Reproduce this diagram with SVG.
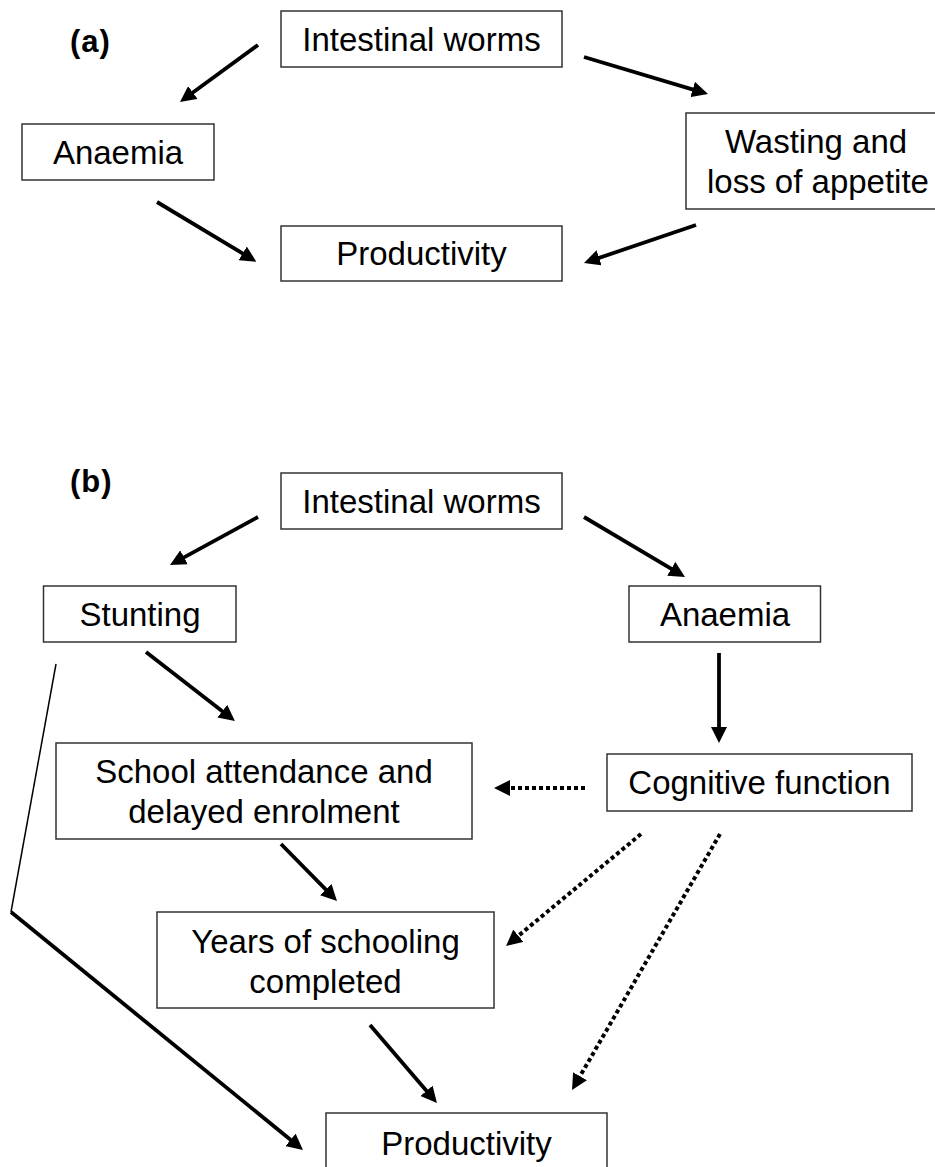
<svg xmlns="http://www.w3.org/2000/svg" width="935" height="1167" viewBox="0 0 935 1167">
<style>
.box{fill:#fff;stroke:#333;stroke-width:1.5}
.t{font-family:"Liberation Sans",Arial,sans-serif;font-size:33px;fill:#000;text-anchor:middle}
.lab{font-family:"Liberation Sans",Arial,sans-serif;font-size:31px;font-weight:bold;fill:#000;letter-spacing:1px}
.a{fill:none;stroke:#000;stroke-width:3.8;marker-end:url(#ah)}
.d{fill:none;stroke:#000;stroke-width:4;stroke-dasharray:4 3;marker-end:url(#ah)}
.thin{fill:none;stroke:#000;stroke-width:1.5}
</style>
<defs>
<marker id="ah" markerUnits="userSpaceOnUse" markerWidth="16" markerHeight="16" refX="11" refY="8" orient="auto" viewBox="0 0 16 16">
<path d="M0,0 L16,8 L0,16 z" fill="#000"/>
</marker>
</defs>
<rect width="935" height="1167" fill="#fff"/>
<text class="lab" x="70" y="52">(a)</text>
<text class="lab" x="70" y="492">(b)</text>
<g id="a-worms"><rect class="box" x="281" y="11" width="281" height="56"/><text class="t" x="421.5" y="51">Intestinal worms</text></g>
<g id="a-anaemia"><rect class="box" x="22" y="124" width="192" height="56"/><text class="t" x="118" y="164">Anaemia</text></g>
<g id="a-wasting"><rect class="box" x="686" y="113" width="262" height="96"/><text class="t" x="816" y="153">Wasting and</text><text class="t" x="818" y="193">loss of appetite</text></g>
<g id="a-productivity"><rect class="box" x="281" y="226" width="281" height="55"/><text class="t" x="421.5" y="265">Productivity</text></g>
<g id="b-worms"><rect class="box" x="281" y="473" width="281" height="56"/><text class="t" x="421.5" y="513">Intestinal worms</text></g>
<g id="b-stunting"><rect class="box" x="43.5" y="586" width="192.5" height="56"/><text class="t" x="140" y="626">Stunting</text></g>
<g id="b-anaemia"><rect class="box" x="629" y="586" width="191.5" height="56"/><text class="t" x="725" y="626">Anaemia</text></g>
<g id="b-school"><rect class="box" x="56" y="743" width="416" height="96"/><text class="t" x="264" y="783">School attendance and</text><text class="t" x="264" y="823">delayed enrolment</text></g>
<g id="b-cognitive"><rect class="box" x="607" y="754" width="305" height="57"/><text class="t" x="759.5" y="794">Cognitive function</text></g>
<g id="b-years"><rect class="box" x="157" y="912" width="337" height="96"/><text class="t" x="325.5" y="953">Years of schooling</text><text class="t" x="325.5" y="993">completed</text></g>
<g id="b-productivity"><rect class="box" x="326" y="1113" width="281" height="70"/><text class="t" x="466.5" y="1155">Productivity</text></g>
<g id="connectors">
<line class="a" x1="258" y1="45" x2="184" y2="99"/>
<line class="a" x1="584" y1="57" x2="703.2" y2="92.6"/>
<line class="a" x1="157" y1="202" x2="252.1" y2="259.1"/>
<line class="a" x1="696" y1="225" x2="588.7" y2="261.4"/>
<line class="a" x1="258" y1="517" x2="174.4" y2="562.6"/>
<line class="a" x1="584" y1="517" x2="680.7" y2="574.4"/>
<line class="a" x1="146" y1="652" x2="231" y2="717.9"/>
<line class="a" x1="719" y1="653" x2="719" y2="738"/>
<line class="d" x1="585" y1="788" x2="499" y2="788"/>
<line class="d" x1="641" y1="834" x2="509.9" y2="942.8"/>
<line class="d" x1="720" y1="834" x2="574.5" y2="1085.7"/>
<line class="a" x1="281" y1="844" x2="333.5" y2="897.4"/>
<line class="a" x1="370" y1="1025" x2="433.7" y2="1099.2"/>
<line class="thin" x1="56" y1="664" x2="11" y2="912"/>
<line class="a" x1="11" y1="912" x2="299.1" y2="1146.8"/>
</g>
</svg>
